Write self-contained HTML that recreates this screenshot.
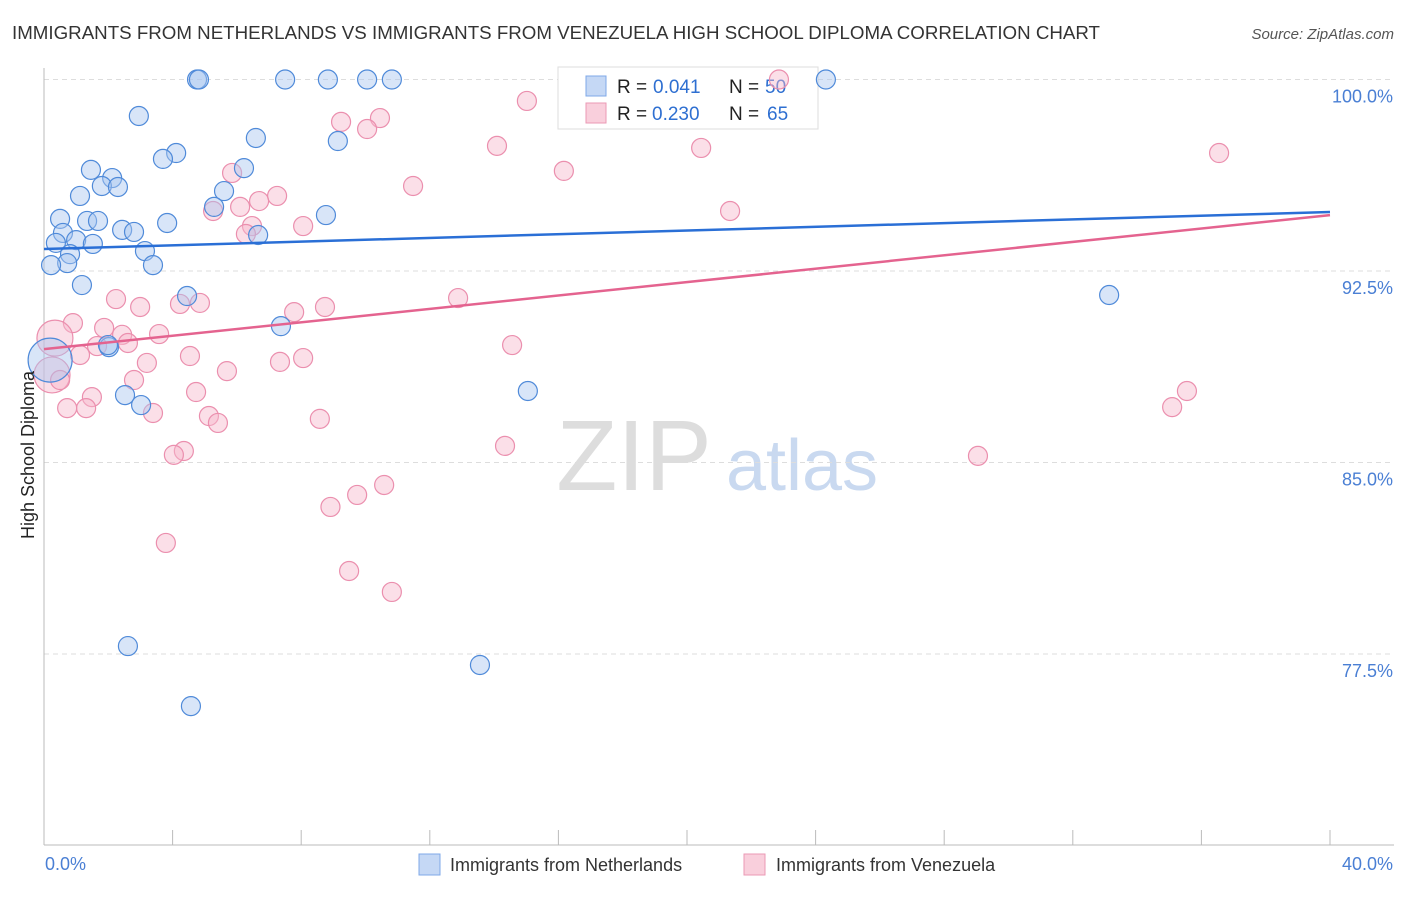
<!DOCTYPE html>
<html><head><meta charset="utf-8"><style>
body{margin:0;background:#fff;font-family:"Liberation Sans",sans-serif;}
svg text{font-family:"Liberation Sans",sans-serif;}
</style></head><body>
<svg id="chart" width="1406" height="892">
<text x="12" y="39" font-size="18.6" fill="#333" textLength="1088" lengthAdjust="spacingAndGlyphs">IMMIGRANTS FROM NETHERLANDS VS IMMIGRANTS FROM VENEZUELA HIGH SCHOOL DIPLOMA CORRELATION CHART</text>
<text x="1394" y="39" font-size="15" font-style="italic" fill="#555" text-anchor="end">Source: ZipAtlas.com</text>
<g>
<text x="634" y="490" font-size="100" font-family="Liberation Serif,serif" fill="#ddd" text-anchor="middle">ZIP</text>
<text x="802" y="490" font-size="72" fill="#c9d9f0" text-anchor="middle">atlas</text>
</g>
<g id="grid"></g>
<line x1="44" y1="68" x2="44" y2="845" stroke="#bbb"/>
<line x1="44" y1="845" x2="1394" y2="845" stroke="#bbb"/>
<g id="ticks"></g>
<g>
<rect x="558" y="67" width="260" height="62" fill="#fff" stroke="#ddd"/>
<rect x="586" y="76" width="20" height="20" fill="#c5d8f5" stroke="#7fa8e8"/>
<rect x="586" y="103" width="20" height="20" fill="#f9cfdc" stroke="#eb9ab5"/>
<text x="617" y="93" font-size="19" fill="#222">R =</text>
<text x="653" y="93" font-size="19" fill="#2e6fd1">0.041</text>
<text x="729" y="93" font-size="19" fill="#222">N =</text>
<text x="765" y="93" font-size="19" fill="#2e6fd1">50</text>
<text x="617" y="120" font-size="19" fill="#222">R =</text>
<text x="652" y="120" font-size="19" fill="#2e6fd1">0.230</text>
<text x="729" y="120" font-size="19" fill="#222">N =</text>
<text x="767" y="120" font-size="19" fill="#2e6fd1">65</text>
</g>
<g id="pts"></g>
<g id="lines"></g>
<text transform="translate(34,455) rotate(-90)" font-size="18" fill="#222" text-anchor="middle">High School Diploma</text>
<text x="45" y="870" font-size="18" fill="#4a7fd4">0.0%</text>
<text x="1393" y="870" font-size="18" fill="#4a7fd4" text-anchor="end">40.0%</text>
<g>
<rect x="419" y="854" width="21" height="21" fill="#c5d8f5" stroke="#7fa8e8"/>
<text x="450" y="871" font-size="18" fill="#333">Immigrants from Netherlands</text>
<rect x="744" y="854" width="21" height="21" fill="#f9cfdc" stroke="#eb9ab5"/>
<text x="776" y="871" font-size="18" fill="#333">Immigrants from Venezuela</text>
</g>
</svg>
<script>
const yTicks=[100,92.5,85,77.5];
const yTickLabels=["100.0%","92.5%","85.0%","77.5%"];
const xTicks=[0,4,8,12,16,20,24,28,32,36,40];
const blueX=[4.76,4.82,7.5,8.83,10.05,10.82,24.32,2.95,6.59,9.14,4.11,3.7,1.46,6.22,2.12,1.8,2.3,5.6,1.12,5.29,8.77,0.5,1.34,1.68,3.83,2.43,2.8,0.59,6.66,1.0,0.37,1.52,3.14,0.81,0.72,0.22,3.39,1.18,4.45,33.13,7.37,2.02,1.99,0.19,15.05,2.52,3.02,2.61,13.56,4.57];
const blueY=[100,100,100,100,100,100,100,98.57,97.71,97.59,97.12,96.89,96.46,96.53,96.14,95.83,95.79,95.63,95.44,95.01,94.69,94.54,94.46,94.46,94.38,94.11,94.03,93.99,93.91,93.71,93.6,93.56,93.28,93.16,92.81,92.73,92.73,91.95,91.52,91.56,90.34,89.52,89.6,89.01,87.8,87.64,87.25,77.81,77.07,75.46];
const blueBig=[43];
const pinkX=[22.86,15.02,10.45,9.24,10.05,14.09,20.44,36.55,16.17,5.85,11.48,7.25,6.69,6.1,5.26,21.34,6.47,8.06,6.28,2.24,4.85,4.23,12.88,2.99,8.74,7.78,0.9,1.87,2.43,0.34,3.58,1.65,2.61,14.56,1.12,4.54,8.06,7.34,3.2,5.69,0.25,0.5,2.8,4.73,35.55,1.49,35.09,0.72,1.31,3.39,5.13,5.41,8.58,14.34,4.35,4.04,29.05,10.58,9.74,8.91,3.79,9.49,10.82];
const pinkY=[100,99.16,98.49,98.34,98.06,97.4,97.32,97.12,96.42,96.34,95.83,95.44,95.24,95.01,94.85,94.85,94.26,94.26,93.95,91.4,91.25,91.21,91.44,91.09,91.09,90.89,90.46,90.27,90.0,89.87,90.03,89.56,89.68,89.6,89.21,89.17,89.09,88.94,88.9,88.58,88.43,88.23,88.23,87.76,87.8,87.56,87.17,87.13,87.13,86.94,86.82,86.55,86.71,85.65,85.45,85.3,85.26,84.12,83.73,83.26,81.85,80.75,79.93];
const pinkBig=[29,40];
const blueTrend=[93.36,94.81];
const pinkTrend=[89.44,94.69];
const NS="http://www.w3.org/2000/svg";
function xs(v){return 44+v/40*1286;}
function ys(v){return 79.5+(100-v)*191.5/7.5;}
function mk(tag,attrs,parent){const e=document.createElementNS(NS,tag);for(const k in attrs)e.setAttribute(k,attrs[k]);document.getElementById(parent).appendChild(e);return e;}
yTicks.forEach((t,i)=>{
 const l=mk('line',{x1:44,x2:1394,y1:ys(t),y2:ys(t),stroke:'#ddd','stroke-dasharray':'5,4'},'grid');
 
 
 const tx=mk('text',{x:1393,y:ys(t)+23,'font-size':18,fill:'#4a7fd4','text-anchor':'end'},'grid');
 tx.textContent=yTickLabels[i];
 
 
});
xTicks.forEach(t=>{
 const l=mk('line',{x1:xs(t),x2:xs(t),y1:830,y2:845,stroke:'#bbb'},'ticks');
 
 
});
function pts(X,Y,big,fill,stroke,name){
 X.forEach((x,i)=>{
  const r=big.includes(i)?(name==='blue-point'?22:18):9.5;
  const c=mk('circle',{cx:xs(x),cy:ys(Y[i]),r:r,fill:fill,'fill-opacity':0.45,stroke:stroke,'stroke-width':1.2},'pts');
  
  
 });
}
pts(pinkX,pinkY,pinkBig,'#f6b8cb','#eb8fae','pink-point');
pts(blueX,blueY,blueBig,'#a9c6f0','#4f8ad9','blue-point');
const bl=mk('line',{x1:xs(0),y1:ys(blueTrend[0]),x2:xs(40),y2:ys(blueTrend[1]),stroke:'#2a6fd6','stroke-width':2.5},'lines');


const pl=mk('line',{x1:xs(0),y1:ys(pinkTrend[0]),x2:xs(40),y2:ys(pinkTrend[1]),stroke:'#e4638f','stroke-width':2.5},'lines');


</script>
</body></html>
